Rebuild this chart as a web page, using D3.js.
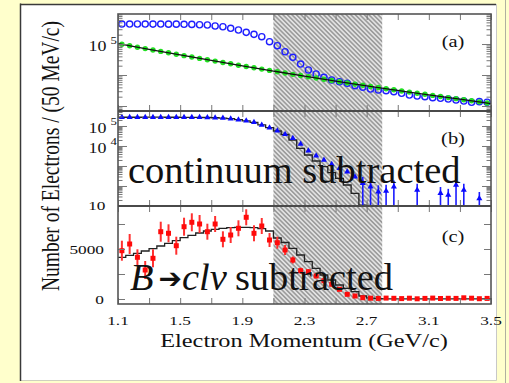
<!DOCTYPE html>
<html>
<head>
<meta charset="utf-8">
<script src="https://cdn.jsdelivr.net/npm/d3@7"></script>
<style>
  html, body { margin: 0; padding: 0; background: #ffffcc; }
  svg { display: block; }
</style>
</head>
<body>
<svg id="chart" width="509" height="383"></svg>
<script>
// ---- data: inclusive electron momentum spectrum, 50 MeV/c bins ----
const binCenters = [1.125,1.175,1.225,1.275,1.325,1.375,1.425,1.475,1.525,1.575,1.625,1.675,
  1.725,1.775,1.825,1.875,1.925,1.975,2.025,2.075,2.125,2.175,2.225,2.275,
  2.325,2.375,2.425,2.475,2.525,2.575,2.625,2.675,2.725,2.775,2.825,2.875,
  2.925,2.975,3.025,3.075,3.125,3.175,3.225,3.275,3.325,3.375,3.425,3.475];
const halfBin = 0.025;
const signalRegion = [2.1, 2.8];

// (a) ON-resonance (open circles) and scaled continuum (filled) yields
const onResonance = [441000,440000,442000,440000,439000,441000,438000,437000,432000,430000,419000,410000,
  381000,361000,321000,283000,238000,205000,172000,119000,88100,56400,37200,22600,
  14500,10800,8430,6900,6080,5400,4520,4010,3530,3280,3120,2890,
  2570,2260,2100,2000,1850,1770,1680,1560,1450,1320,1380,1320];
const continuum = [97800,88100,78800,71100,64000,57700,52000,46900,42200,38100,34300,31200,
  28100,25300,23000,20700,18800,17100,15500,14100,12800,11600,10500,9640,
  8750,8000,7320,6650,6080,5560,5090,4690,4290,3950,3610,3330,
  3050,2810,2590,2390,2200,2030,1870,1730,1600,1470,1360,1250];
const fitMomentum = [1.1,1.3,1.5,1.7,1.9,2.1,2.3,2.5,2.7,2.9,3.1,3.3,3.5];
const fitCounts = [103000,67500,44500,29600,19800,13400,9140,6350,4480,3190,2280,1660,1200];

// (b) continuum-subtracted yield (null = bin not shown) and its errors
const subtracted = [272000,273000,272000,274000,273000,272000,273000,272000,271000,271000,270000,268000,
  260000,251000,232000,207000,184000,153000,112000,82200,58200,38500,24300,12600,
  5820,3270,2000,1220,767,519,292,136,92,52,56,92,
  null,null,63,null,null,43,35,112,63,null,24,null];
const subtractedErr = [0,0,0,0,0,0,0,0,0,0,0,0,
  0,0,0,0,0,0,0,0,0,0,0,0,
  0,0,0,0,0,0,0,145,97,56,60,97,
  0,0,67,0,0,46,37,118,67,0,26,0];
const subtractedModel = [274000,274000,274000,275000,275000,275000,274000,273000,272000,271000,269000,266000,
  259000,249000,231000,206000,181000,151000,114000,83000,56200,38500,20000,7670,
  3550,1780,923,462,243,112,43,11,8];

// (c) B -> c l nu subtracted yield, errors and model
const semilepSub = [4830,5500,4170,2900,4070,6730,6570,5330,7230,7670,7500,6730,
  7500,5970,6400,7070,8170,6570,7300,5900,5630,4900,3900,2830,
  2730,2300,1830,1470,970,470,300,130,80,60,90,70,
  40,80,20,60,90,50,70,60,120,80,30,60];
const semilepErr = [1000,1000,800,900,900,1000,900,900,900,900,900,800,
  800,800,800,800,800,800,800,700,600,500,350,300,
  250,200,200,150,150,100,100,80,80,80,80,80,
  80,80,80,80,80,80,80,80,80,80,80,80];
const semilepModel = [4170,4370,4570,4800,5030,5300,5570,5830,6130,6370,6600,6800,
  6970,7070,7130,7170,7170,7130,7030,6800,6100,5650,5070,4400,
  3730,3070,2400,1900,1400,1070,730,300,80,40,20,20,
  20,20,20,20,20,20,20,20,20,20,20,20];

// axis labels
const xTickValues = [1.1,1.3,1.5,1.7,1.9,2.1,2.3,2.5,2.7,2.9,3.1,3.3,3.5];
const xLabelValues = [1.1,1.5,1.9,2.3,2.7,3.1,3.5];
const panelTags = ['(a)','(b)','(c)'];

// ---- drawing ----
const SERIF = "'Liberation Serif','Times New Roman',serif";
const SX = 1.28;            // horizontal stretch of the axis lettering
const FRAME = '#555', TICK = '#777';
const svg = d3.select('#chart');

svg.append('rect').attr('width', 509).attr('height', 383).attr('fill', '#ffffcc');
svg.append('rect').attr('x', 20).attr('y', 4).attr('width', 476).attr('height', 376).attr('fill', '#fff');
svg.append('line').attr('x1', 496.5).attr('x2', 496.5).attr('y1', 4).attr('y2', 380.5).attr('stroke', '#c8c8c8');
svg.append('line').attr('x1', 20).attr('x2', 496.5).attr('y1', 380.5).attr('y2', 380.5).attr('stroke', '#d0d0c0');
svg.append('line').attr('x1', 505.5).attr('x2', 505.5).attr('y1', 0).attr('y2', 383).attr('stroke', '#b0b0a0');
svg.append('line').attr('x1', 20.5).attr('x2', 20.5).attr('y1', 3.5).attr('y2', 381).attr('stroke', '#3a3a3a').attr('stroke-width', 1.5);
svg.append('line').attr('x1', 20).attr('x2', 496).attr('y1', 4.5).attr('y2', 4.5).attr('stroke', '#3a3a3a').attr('stroke-width', 1.5);

const X0 = 118, X1 = 491;
const x = d3.scaleLinear().domain([1.1, 3.5]).range([X0, X1]);

const panels = [
  { top: 14,  bottom: 111, y: d3.scaleLog().domain([690, 930000]).range([111, 14]) },
  { top: 111, bottom: 206, y: d3.scaleLog().domain([10, 562000]).range([206, 111]) },
  { top: 206, bottom: 304, y: d3.scaleLinear().domain([-500, 9300]).range([304, 206]) }
];

const defs = svg.append('defs');
const hatch = defs.append('pattern').attr('id', 'hatch').attr('patternUnits', 'userSpaceOnUse')
  .attr('width', 3.2).attr('height', 3.2).attr('patternTransform', 'rotate(-45)');
hatch.append('rect').attr('width', 3.2).attr('height', 3.2).attr('fill', '#e2e2e2');
hatch.append('line').attr('x1', 0.8).attr('x2', 0.8).attr('y1', 0).attr('y2', 3.2)
  .attr('stroke', '#7c7c7c').attr('stroke-width', 1.1);

panels.forEach((p, k) => {
  defs.append('clipPath').attr('id', 'clip' + k).append('rect')
    .attr('x', X0).attr('y', p.top).attr('width', X1 - X0).attr('height', p.bottom - p.top);
});

// excluded momentum band
svg.append('rect')
  .attr('x', x(signalRegion[0])).attr('y', panels[0].top)
  .attr('width', x(signalRegion[1]) - x(signalRegion[0]))
  .attr('height', panels[2].bottom - panels[0].top)
  .attr('fill', 'url(#hatch)');

const stepLine = (ys) => d3.line().curve(d3.curveStepAfter)
  .x(d => x(d[0])).y(d => ys(d[1]));
function stepPoints(vals) {
  const pts = vals.map((v, i) => [binCenters[i] - halfBin, v]);
  pts.push([binCenters[vals.length - 1] + halfBin, vals[vals.length - 1]]);
  return pts;
}

// panel (a)
{
  const p = panels[0], g = svg.append('g').attr('clip-path', 'url(#clip0)');
  g.selectAll('circle.on').data(onResonance).join('circle').attr('class', 'on')
    .attr('cx', (d, i) => x(binCenters[i])).attr('cy', d => p.y(d)).attr('r', 3.1)
    .attr('fill', 'none').attr('stroke', '#1f1fff').attr('stroke-width', 1.4);
  g.selectAll('circle.off').data(continuum).join('circle').attr('class', 'off')
    .attr('cx', (d, i) => x(binCenters[i])).attr('cy', d => p.y(d)).attr('r', 2.7)
    .attr('fill', '#22e022');
  g.append('path').datum(fitMomentum.map((m, i) => [m, fitCounts[i]]))
    .attr('d', d3.line().curve(d3.curveMonotoneX).x(d => x(d[0])).y(d => p.y(d[1])))
    .attr('fill', 'none').attr('stroke', '#111').attr('stroke-width', 1.3);
}

// panel (b)
{
  const p = panels[1], g = svg.append('g').attr('clip-path', 'url(#clip1)');
  g.append('path').datum(stepPoints(subtractedModel)).attr('d', stepLine(p.y))
    .attr('fill', 'none').attr('stroke', '#222').attr('stroke-width', 1.3);
  const pts = subtracted.map((v, i) => ({ m: binCenters[i], v, e: subtractedErr[i] })).filter(d => d.v !== null);
  g.selectAll('line.err').data(pts.filter(d => d.e > 0)).join('line').attr('class', 'err')
    .attr('x1', d => x(d.m)).attr('x2', d => x(d.m))
    .attr('y1', d => p.y(d.v + d.e)).attr('y2', d => p.y(Math.max(d.v - d.e, 1)))
    .attr('stroke', '#1a1aff').attr('stroke-width', 1.6);
  g.selectAll('path.tri').data(pts).join('path').attr('class', 'tri')
    .attr('d', d3.symbol(d3.symbolTriangle, 16))
    .attr('transform', d => `translate(${x(d.m)},${p.y(d.v)})`)
    .attr('fill', '#0a0aff');
}

// panel (c)
{
  const p = panels[2], g = svg.append('g').attr('clip-path', 'url(#clip2)');
  g.append('path').datum(stepPoints(semilepModel)).attr('d', stepLine(p.y))
    .attr('fill', 'none').attr('stroke', '#222').attr('stroke-width', 1.3);
  const pts = semilepSub.map((v, i) => ({ m: binCenters[i], v, e: semilepErr[i] }));
  g.selectAll('line.err').data(pts).join('line').attr('class', 'err')
    .attr('x1', d => x(d.m)).attr('x2', d => x(d.m))
    .attr('y1', d => p.y(d.v + d.e)).attr('y2', d => p.y(d.v - d.e))
    .attr('stroke', '#ff3030').attr('stroke-width', 2);
  g.selectAll('path.sq').data(pts).join('path').attr('class', 'sq')
    .attr('d', d3.symbol(d3.symbolSquare, 25))
    .attr('transform', d => `translate(${x(d.m)},${p.y(d.v)})`)
    .attr('fill', '#ff0a0a');
}

// ticks on every panel edge, pointing inward
function strip(sel) { sel.select('.domain').remove(); sel.selectAll('line').attr('stroke', TICK); }
function logTickValues(scale, major) {
  const [lo, hi] = scale.domain(), out = [];
  for (let d = Math.floor(Math.log10(lo)); d <= Math.ceil(Math.log10(hi)); d++) {
    for (let k = 1; k <= 9; k++) {
      const v = k * Math.pow(10, d);
      if (v >= lo && v <= hi && ((k === 1) === major)) out.push(v);
    }
  }
  return out;
}
function yTicks(scale, values, len) {
  svg.append('g').attr('transform', `translate(${X0},0)`)
    .call(d3.axisRight(scale).tickValues(values).tickSize(len).tickFormat('')).call(strip);
  svg.append('g').attr('transform', `translate(${X1},0)`)
    .call(d3.axisLeft(scale).tickValues(values).tickSize(len).tickFormat('')).call(strip);
}
panels.forEach((p, k) => {
  svg.append('g').attr('transform', `translate(0,${p.top})`)
    .call(d3.axisBottom(x).tickValues(xTickValues).tickSize(6).tickFormat('')).call(strip);
  svg.append('g').attr('transform', `translate(0,${p.bottom})`)
    .call(d3.axisTop(x).tickValues(xTickValues).tickSize(6).tickFormat('')).call(strip);
  if (k < 2) {
    yTicks(p.y, logTickValues(p.y, true), 9);
    yTicks(p.y, logTickValues(p.y, false), 4.5);
  } else {
    yTicks(p.y, [0, 2500, 5000, 7500], 7);
  }
});

// frames
svg.append('rect').attr('x', X0).attr('y', panels[0].top).attr('width', X1 - X0)
  .attr('height', panels[2].bottom - panels[0].top)
  .attr('fill', 'none').attr('stroke', FRAME).attr('stroke-width', 1.6);
[panels[0].bottom, panels[1].bottom].forEach(yy => {
  svg.append('line').attr('x1', X0).attr('x2', X1).attr('y1', yy).attr('y2', yy)
    .attr('stroke', '#4a4a4a').attr('stroke-width', 2.2);
});

// lettering
function stretched(xp, yp, str, size, anchor) {
  return svg.append('text')
    .attr('transform', `translate(${xp},${yp}) scale(${SX},1)`)
    .attr('text-anchor', anchor || 'middle')
    .attr('font-family', SERIF).attr('font-size', size).attr('fill', '#111').text(str);
}
function powerLabel(yTick, exponent) {
  stretched(106.5, yTick + 7, '10', 14, 'end');
  stretched(110.5, yTick - 0.5, exponent, 10, 'start');
}
xLabelValues.forEach(v => stretched(x(v), 325, v.toFixed(1), 13.5));
powerLabel(panels[0].y(1e5), '5');
powerLabel(panels[1].y(1e5), '5');
powerLabel(panels[1].y(1e4), '4');
stretched(105.5, panels[1].y(10) + 3.5, '10', 13.5, 'end');
stretched(104, panels[2].y(5000) + 4.5, '5000', 13.5, 'end');
stretched(104, panels[2].y(0) + 4.5, '0', 13.5, 'end');

[47, 144, 242].forEach((yy, k) => stretched(453, yy, panelTags[k], 16));

stretched(304, 347, 'Electron Momentum (GeV/c)', 19);
svg.append('text')
  .attr('transform', `translate(59,156) scale(${SX},1) rotate(-90)`)
  .attr('text-anchor', 'middle').attr('font-family', SERIF).attr('font-size', 19.5)
  .attr('fill', '#111').text('Number of Electrons / (50 MeV/c)');

svg.append('text').attr('x', 128).attr('y', 183)
  .attr('font-family', SERIF).attr('font-size', 38.5).attr('fill', '#111')
  .text('continuum subtracted');

// "B -> c l nu subtracted", laid out piece by piece
{
  let cx = 130;
  const base = 290;
  const piece = (str, opts) => {
    const t = svg.append('text').attr('x', cx).attr('y', base + (opts.dy || 0))
      .attr('font-family', opts.family || SERIF).attr('font-size', opts.size || 38.5)
      .attr('font-style', opts.italic ? 'italic' : 'normal')
      .attr('font-weight', opts.bold ? 'bold' : 'normal')
      .attr('fill', '#111').text(str);
    cx += t.node().getComputedTextLength() + (opts.gap || 0);
  };
  piece('B', { italic: true, gap: 5 });
  piece('\u2794', { family: "'DejaVu Sans',sans-serif", size: 28, dy: -2, gap: 0 });
  piece('cl\u03bd', { italic: true, gap: 8 });
  piece('subtracted', {});
}
</script>
</body>
</html>
